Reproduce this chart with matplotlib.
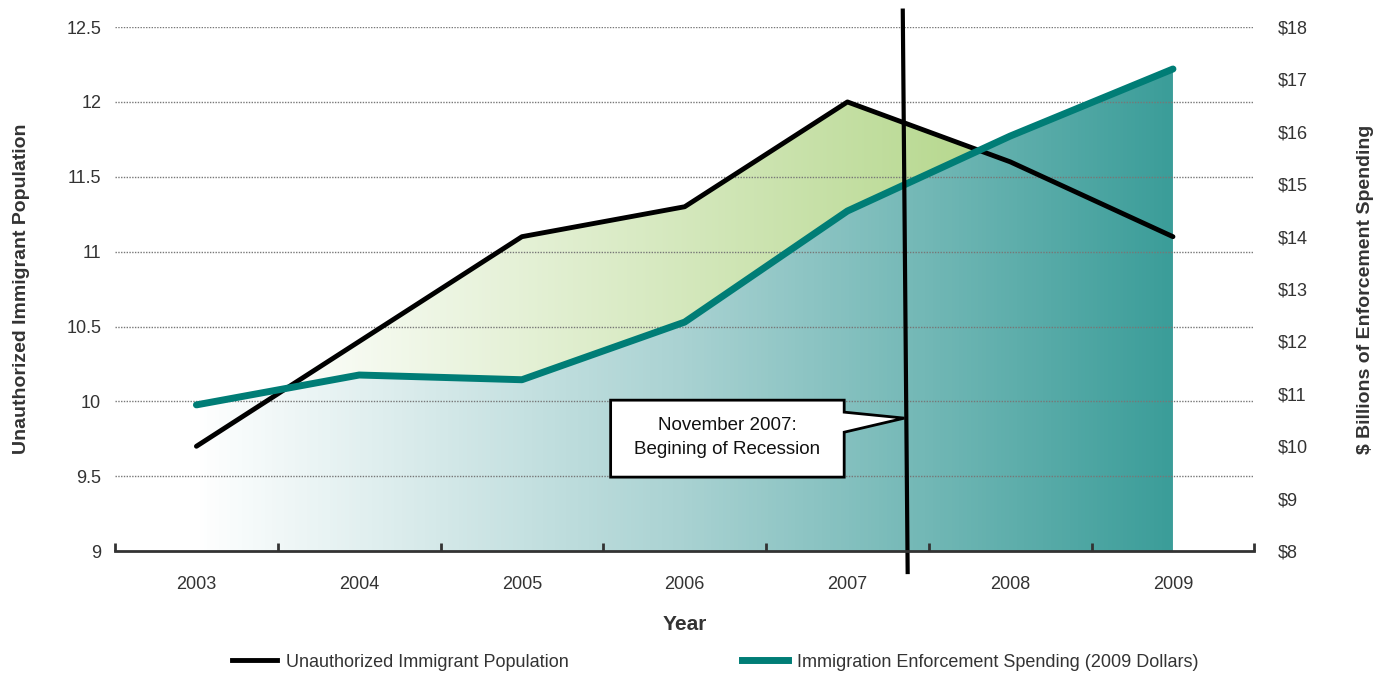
import numpy as np
import matplotlib
matplotlib.use("Agg")
import matplotlib.pyplot as plt
from matplotlib.colors import LinearSegmentedColormap
from matplotlib.patches import Polygon
from matplotlib.lines import Line2D

years = [2003, 2004, 2005, 2006, 2007, 2008, 2009]
population = [9.7, 10.4, 11.1, 11.3, 12.0, 11.6, 11.1]          # millions
spending = [10.79, 11.36, 11.27, 12.37, 14.49, 15.92, 17.2]     # $ billions (2009 dollars)

left_ticks = [9, 9.5, 10, 10.5, 11, 11.5, 12, 12.5]
left_labels = ["9", "9.5", "10", "10.5", "11", "11.5", "12", "12.5"]
right_ticks = list(range(8, 19))
right_labels = ["\\$%d" % v for v in right_ticks]

recession_x = 2007.35

plt.rcParams['font.family'] = ['Liberation Sans', 'DejaVu Sans']
txt = '#333333'
teal = '#007d76'

fig = plt.figure(figsize=(13.86, 6.77), dpi=100)
ax = fig.add_axes([0.083, 0.186, 0.822, 0.774])
ax2 = ax.twinx()

xmin, xmax = 2002.5, 2009.5
grad = np.linspace(0, 1, 256).reshape(1, -1)

# green gradient under the population line (shows where it is above spending)
green_cmap = LinearSegmentedColormap.from_list('g', ['#ffffff', '#b3d689'])
gpoly = ax.fill_between(years, population, 9, facecolor='none', edgecolor='none')
im = ax.imshow(grad, cmap=green_cmap, extent=[2003.4, 2008.0, 9, 12.5],
               aspect='auto', zorder=1)
im.set_clip_path(gpoly.get_paths()[0], transform=ax.transData)
ax.plot(years, population, color=teal, lw=1.2, zorder=1.5)

# teal gradient under the spending line
teal_cmap = LinearSegmentedColormap.from_list('t', ['#ffffff', '#a9d2d2', '#3b9d99'])
tpoly = ax2.fill_between(years, spending, 8, facecolor='none', edgecolor='none')
im2 = ax2.imshow(grad, cmap=teal_cmap, extent=[2003, 2009, 8, 18],
                 aspect='auto', zorder=1)
im2.set_clip_path(tpoly.get_paths()[0], transform=ax2.transData)

# dotted gridlines on top of fills
ax2.hlines(left_ticks[1:], xmin, xmax, colors='#777777', linestyles=(0, (1, 1)),
           linewidth=1.0, transform=ax.transData, zorder=2)

# lines
ax2.plot(years, population, color='black', lw=3.5, solid_capstyle='round',
         transform=ax.transData, zorder=3)
ax2.plot(years, spending, color=teal, lw=5, solid_capstyle='round', zorder=4)

# recession marker
ax2.plot([recession_x - 0.01, recession_x + 0.02], [12.61, 8.86], color='black', lw=3,
         transform=ax.transData, clip_on=False, zorder=5)

callout = Polygon([[2005.545, 10.008], [2006.98, 10.008], [2006.98, 9.928],
                   [recession_x, 9.888], [2006.98, 9.794], [2006.98, 9.494],
                   [2005.545, 9.494]], closed=True, facecolor='white',
                  edgecolor='black', lw=2, transform=ax.transData, zorder=6)
ax2.add_patch(callout)
ax2.text(2006.26, 9.76, "November 2007:\nBegining of Recession", ha='center',
         va='center', fontsize=13.5, color='#111111', linespacing=1.55,
         transform=ax.transData, zorder=7)

# axes styling
ax.set_xlim(xmin, xmax)
ax.set_ylim(9, 12.5)
ax2.set_xlim(xmin, xmax)
ax2.set_ylim(8, 18)
for a in (ax, ax2):
    for s in ('left', 'right', 'top'):
        a.spines[s].set_visible(False)

# x axis drawn by the top (twin) axes so it sits above the fills
ax.spines['bottom'].set_visible(False)
ax.xaxis.set_visible(False)
ax2.xaxis.set_visible(True)
ax2.spines['bottom'].set_visible(True)
ax2.spines['bottom'].set_color('#333333')
ax2.spines['bottom'].set_linewidth(2)
ax2.spines['bottom'].set_zorder(8)

ax2.set_xticks(years)
ax2.set_xticklabels([str(y) for y in years])
ax2.set_xticks(np.arange(2002.5, 2010, 1), minor=True)
ax2.tick_params(axis='x', which='major', length=0, pad=18, labelsize=13, labelcolor=txt)
ax2.tick_params(axis='x', which='minor', direction='in', length=6, width=2, color='#333333')

ax.set_yticks(left_ticks)
ax.set_yticklabels(left_labels)
ax.tick_params(axis='y', length=0, pad=10, labelsize=13, labelcolor=txt)
ax2.set_yticks(right_ticks)
ax2.set_yticklabels(right_labels)
ax2.tick_params(axis='y', length=0, pad=17, labelsize=13, labelcolor=txt)

ax2.set_xlabel("Year", fontsize=15, fontweight='bold', color=txt, labelpad=16)
ax.set_ylabel("Unauthorized Immigrant Population", fontsize=14, fontweight='bold',
              color=txt, labelpad=26)
ax2.set_ylabel("\\$ Billions of Enforcement Spending", fontsize=14, fontweight='bold',
               color=txt, labelpad=35)

handles = [Line2D([], [], color='black', lw=3.5),
           Line2D([], [], color=teal, lw=5)]
fig.legend(handles, ["Unauthorized Immigrant Population",
                     "Immigration Enforcement Spending (2009 Dollars)"],
           loc='center', bbox_to_anchor=(0.516, 0.022), ncol=2, frameon=False,
           fontsize=13, handlelength=2.5, handletextpad=0.5, columnspacing=9.6,
           labelcolor=txt)

fig.savefig("out.png", dpi=100)
